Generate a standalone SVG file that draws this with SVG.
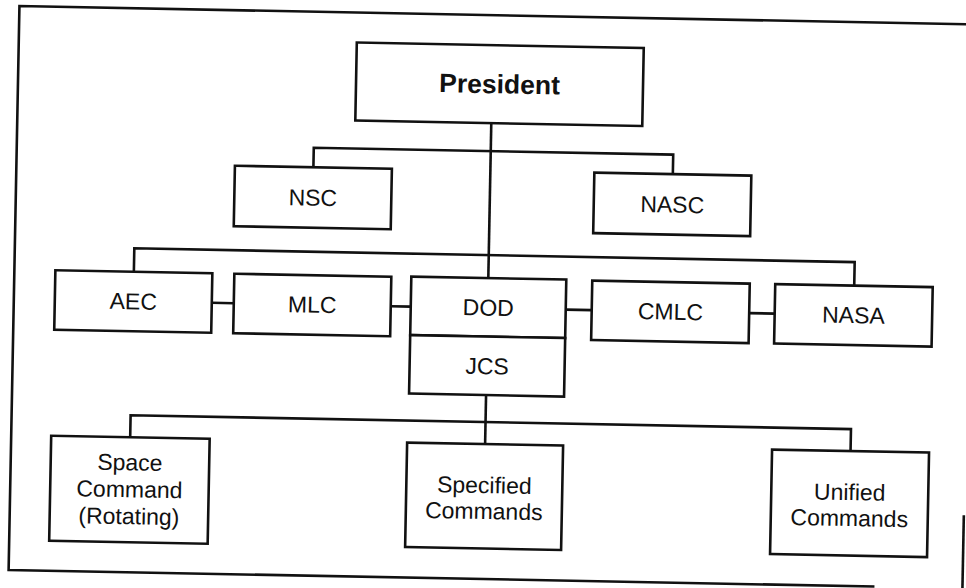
<svg xmlns="http://www.w3.org/2000/svg" width="966" height="588" viewBox="0 0 966 588">
<style>
  .box { fill: #fff; stroke: #111; stroke-width: 2.6; }
  .ln { fill: none; stroke: #111; stroke-width: 2.6; }
  .t { font-family: "Liberation Sans", Arial, Helvetica, sans-serif; font-size: 23px; fill: #111; text-anchor: middle; }
  .tb { font-family: "Liberation Sans", Arial, Helvetica, sans-serif; font-size: 26.5px; font-weight: bold; fill: #111; text-anchor: middle; }
</style>
<rect x="0" y="0" width="966" height="588" fill="#fff"/>
<g transform="rotate(1.1 483 294)">
  <g id="frame">
    <path class="ln" d="M880,579 H14 V15 H1000"/>
    <path class="ln" d="M968,506 V620"/>
  </g>
  <g id="connectors">
    <path class="ln" d="M488,123 V278"/>
    <path class="ln" d="M311,170.5 V151 H670.5 V170.5"/>
    <path class="ln" d="M133.5,279 V255 H854 V278"/>
    <path class="ln" d="M212,308 H234"/>
    <path class="ln" d="M391,308 H411"/>
    <path class="ln" d="M566,308 H592"/>
    <path class="ln" d="M749.5,308 H775"/>
    <path class="ln" d="M488,395 V444"/>
    <path class="ln" d="M133,444 V422 H853.5 V444"/>
  </g>
  <g id="president">
    <rect class="box" x="352" y="45" width="287" height="78"/>
    <text class="tb" x="495.5" y="93">President</text>
  </g>
  <g id="nsc">
    <rect class="box" x="232.5" y="170.5" width="157" height="60.5"/>
    <text class="t" x="311" y="209">NSC</text>
  </g>
  <g id="nasc">
    <rect class="box" x="592" y="170.5" width="157" height="60.5"/>
    <text class="t" x="670.5" y="209">NASC</text>
  </g>
  <g id="aec">
    <rect class="box" x="55" y="278.5" width="157" height="59.5"/>
    <text class="t" x="133.5" y="316">AEC</text>
  </g>
  <g id="mlc">
    <rect class="box" x="234" y="278.5" width="157" height="59.5"/>
    <text class="t" x="312.5" y="316">MLC</text>
  </g>
  <g id="dod">
    <rect class="box" x="411" y="278" width="155" height="58.5"/>
    <text class="t" x="488.5" y="315.5">DOD</text>
  </g>
  <g id="jcs">
    <rect class="box" x="411" y="336.5" width="155" height="58.5"/>
    <text class="t" x="488.5" y="374">JCS</text>
  </g>
  <g id="cmlc">
    <rect class="box" x="592" y="278.5" width="157.5" height="59.5"/>
    <text class="t" x="670.75" y="316">CMLC</text>
  </g>
  <g id="nasa">
    <rect class="box" x="775" y="278.5" width="157.5" height="59.5"/>
    <text class="t" x="853.75" y="316">NASA</text>
  </g>
  <g id="space-command">
    <rect class="box" x="54" y="444" width="158.5" height="105"/>
    <text class="t" x="133.25" y="477">Space</text>
    <text class="t" x="133.25" y="504">Command</text>
    <text class="t" x="133.25" y="531">(Rotating)</text>
  </g>
  <g id="specified-commands">
    <rect class="box" x="410" y="444" width="156" height="104.5"/>
    <text class="t" x="488" y="493">Specified</text>
    <text class="t" x="488" y="519">Commands</text>
  </g>
  <g id="unified-commands">
    <rect class="box" x="775" y="444" width="157" height="104.5"/>
    <text class="t" x="853.5" y="493">Unified</text>
    <text class="t" x="853.5" y="519">Commands</text>
  </g>
</g>
</svg>
